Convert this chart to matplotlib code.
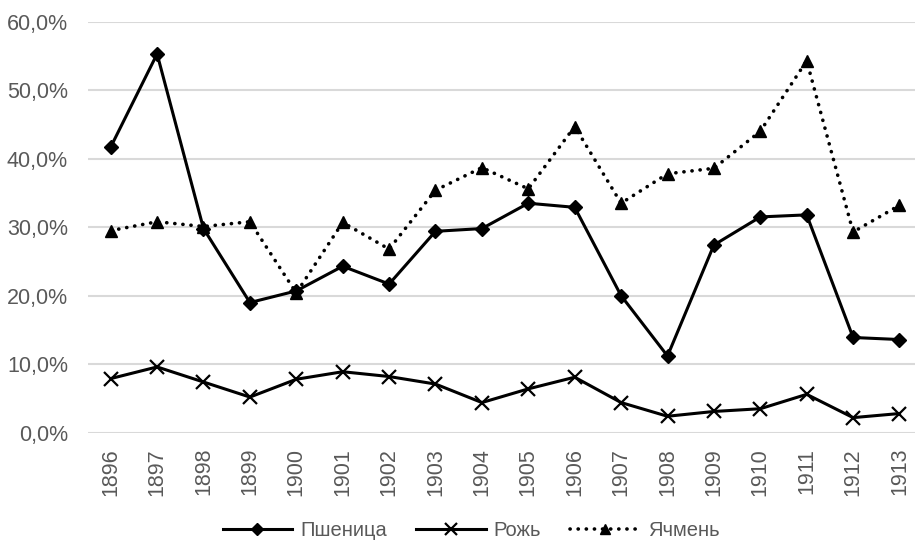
import matplotlib
matplotlib.use("Agg")
import matplotlib.pyplot as plt
from matplotlib.ticker import FuncFormatter

years = [str(y) for y in range(1896, 1914)]
wheat = [41.7, 55.3, 29.8, 19.0, 20.7, 24.3, 21.7, 29.4, 29.8, 33.5, 32.9, 20.0, 11.2, 27.4, 31.5, 31.8, 13.9, 13.6]
rye = [7.9, 9.6, 7.4, 5.2, 7.8, 8.9, 8.2, 7.1, 4.4, 6.4, 8.1, 4.4, 2.4, 3.1, 3.5, 5.6, 2.2, 2.8]
barley = [29.5, 30.8, 30.1, 30.8, 20.4, 30.7, 26.8, 35.4, 38.7, 35.6, 44.7, 33.5, 37.8, 38.6, 44.0, 54.3, 29.3, 33.2]
labels = ["Пшеница", "Рожь", "Ячмень"]
yticks = [0, 10, 20, 30, 40, 50, 60]

plt.rcParams['font.family'] = ['Liberation Sans Narrow', 'Liberation Sans', 'DejaVu Sans']
TXT = '#595959'
FS = 15.5

W, H = 915, 545
fig = plt.figure(figsize=(W / 100, H / 100), dpi=100)
left, right, top, bottom = 87.5, 915, 21.7, 432.7
ax = fig.add_axes([left / W, 1 - bottom / H, (right - left) / W, (bottom - top) / H])

x = list(range(len(years)))
ax.plot(x, wheat, color='black', lw=2.2, marker='D', markersize=7.5, label=labels[0], zorder=3)
ax.plot(x, rye, color='black', lw=2.2, marker='x', markersize=10, markeredgewidth=1.6, label=labels[1], zorder=3)
ax.plot(x, barley, color='black', lw=2.6, linestyle=(0, (0.05, 2.2)), dash_capstyle='round',
        marker='^', markersize=9, label=labels[2], zorder=3)

unit = 46.4
span = (right - left) / unit
ax.set_xlim(-0.5, -0.5 + span)
ax.set_ylim(0, 60)
ax.set_yticks(yticks)
ax.yaxis.set_major_formatter(FuncFormatter(lambda v, p: f"{v:.1f}".replace('.', ',') + '%'))
ax.set_xticks(x)
ax.set_xticklabels(years, rotation=90)
ax.tick_params(axis='both', length=0, labelsize=FS, labelcolor=TXT)
ax.tick_params(axis='y', pad=14)
ax.tick_params(axis='x', pad=11)
ax.grid(axis='y', color='#d9d9d9', lw=1.5)
ax.set_axisbelow(True)
for s in ax.spines.values():
    s.set_visible(False)

leg = fig.legend(loc='center', bbox_to_anchor=(471 / W, 1 - 531 / H), ncol=3, frameon=False,
                 fontsize=14.5, handlelength=3.45, columnspacing=1.45, handletextpad=0.4, markerscale=0.85)
for t in leg.get_texts():
    t.set_color(TXT)

fig.savefig('out.png', dpi=100)
